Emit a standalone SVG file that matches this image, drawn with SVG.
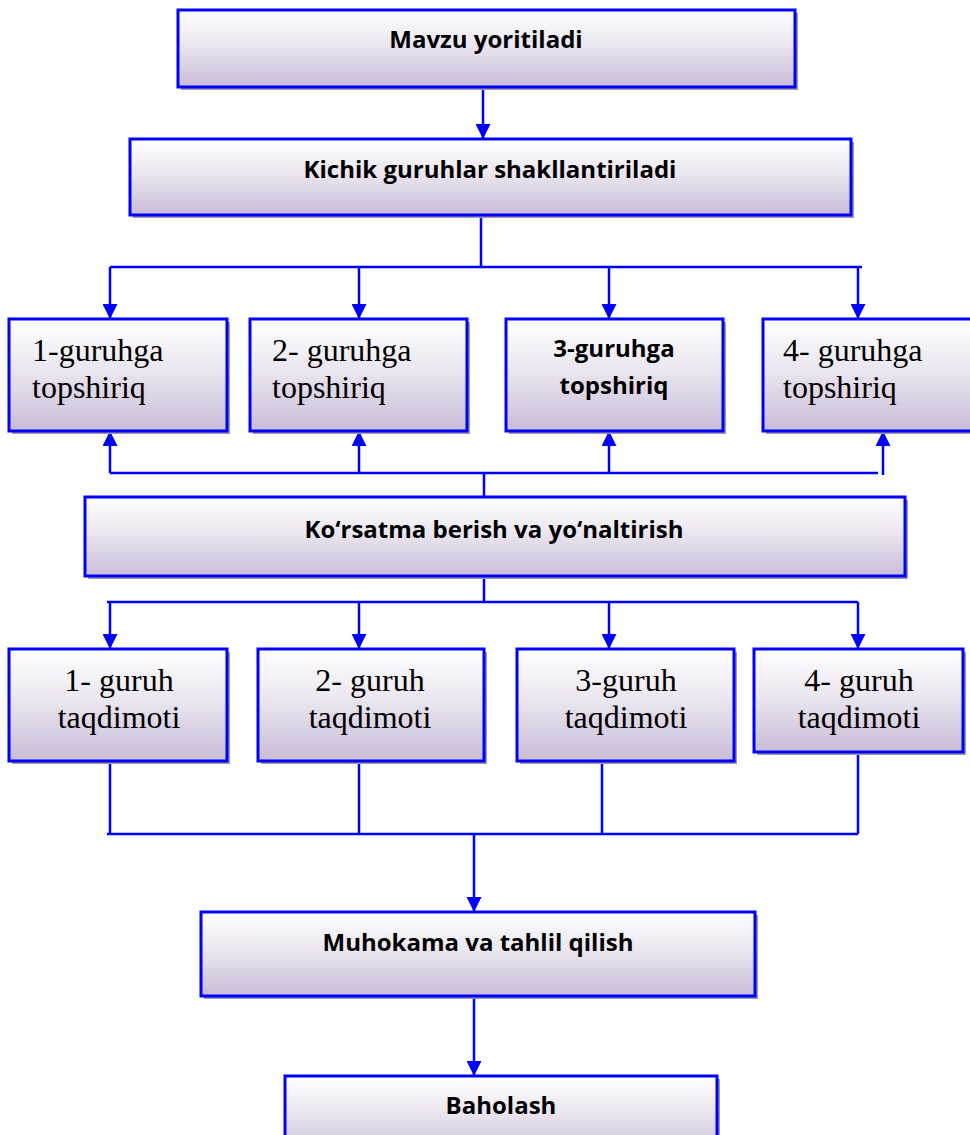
<svg xmlns="http://www.w3.org/2000/svg" width="970" height="1135" viewBox="0 0 970 1135">
<defs>
<linearGradient id="fill" x1="0" y1="0" x2="0" y2="1">
<stop offset="0" stop-color="#ffffff"/>
<stop offset="0.45" stop-color="#ebe6f0"/>
<stop offset="1" stop-color="#c9bcd7"/>
</linearGradient>
<marker id="arr" markerUnits="userSpaceOnUse" markerWidth="15" markerHeight="15" refX="15" refY="7.5" orient="auto">
<path d="M0,0 L15,7.5 L0,15 z" fill="#0000ff"/>
</marker>
</defs>
<style>
.sh{fill:#9f99a8}
.bx{fill:url(#fill);stroke:#0000ff;stroke-width:3}
.b{font-family:"Open Sans","Liberation Sans",sans-serif;font-weight:bold;font-size:24px;fill:#000;text-anchor:middle}
.s{font-family:"Liberation Serif","Times New Roman",serif;font-size:32px;fill:#000}
.m{text-anchor:middle}
.c{fill:none;stroke:#0000ff;stroke-width:2.5}
.a{marker-end:url(#arr)}
</style>

<g id="connectors">
<path class="c a" d="M483,87 V139"/>
<path class="c" d="M481,215 V267 M110,267 H862"/>
<path class="c a" d="M110,267 V319"/>
<path class="c a" d="M359,267 V319"/>
<path class="c a" d="M609,267 V319"/>
<path class="c a" d="M858,267 V319"/>
<path class="c" d="M110,473 H878 M484,473 V497"/>
<path class="c a" d="M110,473 V431"/>
<path class="c a" d="M359,473 V431"/>
<path class="c a" d="M609,473 V431"/>
<path class="c a" d="M883,475 V431"/>
<path class="c" d="M484,576 V602 M107,602 H858"/>
<path class="c a" d="M110,602 V649"/>
<path class="c a" d="M359,602 V649"/>
<path class="c a" d="M609,602 V649"/>
<path class="c a" d="M858,602 V649"/>
<path class="c" d="M110,761 V834 M359,761 V834 M602,761 V834 M858,752 V834 M107,834 H858"/>
<path class="c a" d="M474,834 V912"/>
<path class="c a" d="M474,995 V1076"/>
</g>

<g id="n1">
<rect class="sh" x="181" y="13" width="617" height="77"/>
<rect class="bx" x="178" y="10" width="617" height="77"/>
<text class="b" x="486" y="48">Mavzu yoritiladi</text>
</g>
<g id="n2">
<rect class="sh" x="133" y="142" width="721" height="76"/>
<rect class="bx" x="130" y="139" width="721" height="76"/>
<text class="b" x="490" y="178">Kichik guruhlar shakllantiriladi</text>
</g>

<g id="t1">
<rect class="sh" x="12" y="322" width="218" height="112"/>
<rect class="bx" x="9" y="319" width="218" height="112"/>
<text class="s" x="32" y="361">1-guruhga</text>
<text class="s" x="32" y="398">topshiriq</text>
</g>
<g id="t2">
<rect class="sh" x="253" y="322" width="217" height="112"/>
<rect class="bx" x="250" y="319" width="217" height="112"/>
<text class="s" x="272" y="361">2- guruhga</text>
<text class="s" x="272" y="398">topshiriq</text>
</g>
<g id="t3">
<rect class="sh" x="509" y="322" width="217" height="112"/>
<rect class="bx" x="506" y="319" width="217" height="112"/>
<text class="b" x="614" y="357">3-guruhga</text>
<text class="b" x="614" y="394">topshiriq</text>
</g>
<g id="t4">
<rect class="sh" x="766" y="322" width="220" height="112"/>
<rect class="bx" x="763" y="319" width="220" height="112"/>
<text class="s" x="783" y="361">4- guruhga</text>
<text class="s" x="783" y="398">topshiriq</text>
</g>

<g id="n3">
<rect class="sh" x="88" y="500" width="820" height="79"/>
<rect class="bx" x="85" y="497" width="820" height="79"/>
<text class="b" x="494" y="538">Ko‘rsatma berish va yo‘naltirish</text>
</g>

<g id="p1">
<rect class="sh" x="12" y="652" width="218" height="112"/>
<rect class="bx" x="9" y="649" width="218" height="112"/>
<text class="s m" x="119" y="691">1- guruh</text>
<text class="s m" x="119" y="728">taqdimoti</text>
</g>
<g id="p2">
<rect class="sh" x="261" y="652" width="226" height="112"/>
<rect class="bx" x="258" y="649" width="226" height="112"/>
<text class="s m" x="370" y="691">2- guruh</text>
<text class="s m" x="370" y="728">taqdimoti</text>
</g>
<g id="p3">
<rect class="sh" x="520" y="652" width="217" height="112"/>
<rect class="bx" x="517" y="649" width="217" height="112"/>
<text class="s m" x="626" y="691">3-guruh</text>
<text class="s m" x="626" y="728">taqdimoti</text>
</g>
<g id="p4">
<rect class="sh" x="757" y="652" width="209" height="103"/>
<rect class="bx" x="754" y="649" width="209" height="103"/>
<text class="s m" x="859" y="691">4- guruh</text>
<text class="s m" x="859" y="728">taqdimoti</text>
</g>

<g id="n4">
<rect class="sh" x="204" y="915" width="554" height="84"/>
<rect class="bx" x="201" y="912" width="554" height="84"/>
<text class="b" x="478" y="951">Muhokama va tahlil qilish</text>
</g>
<g id="n5">
<rect class="sh" x="288" y="1079" width="432" height="80"/>
<rect class="bx" x="285" y="1076" width="432" height="80"/>
<text class="b" x="501" y="1114">Baholash</text>
</g>
</svg>
